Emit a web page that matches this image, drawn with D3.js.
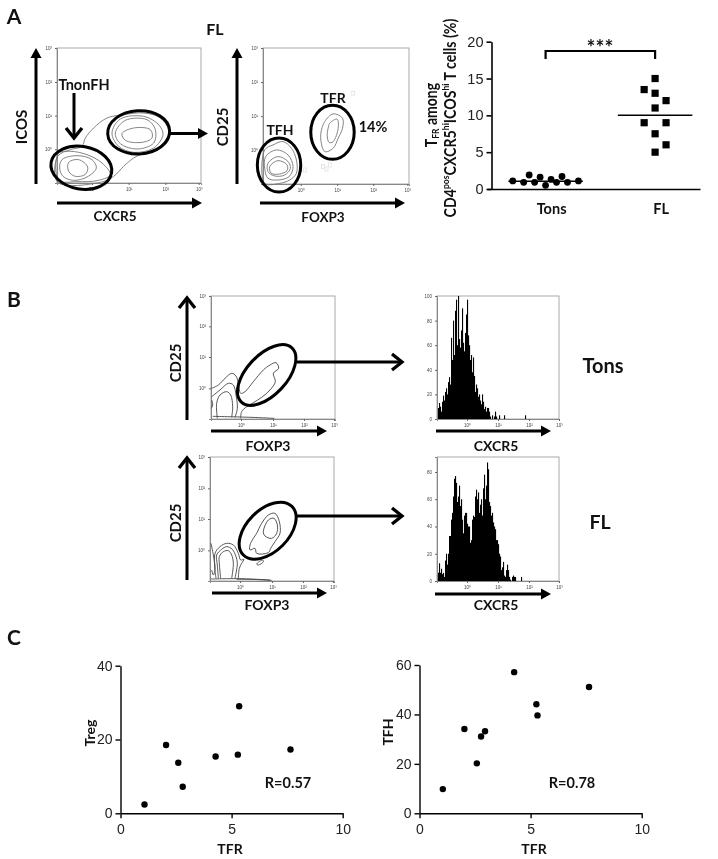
<!DOCTYPE html>
<html>
<head>
<meta charset="utf-8">
<script src="https://cdn.jsdelivr.net/npm/d3@7"></script>
<style>
    html, body { margin: 0; padding: 0; background: #fff; }
    svg { display: block; filter: blur(0.4px); }
    .lbl { font-family: Lato, "Open Sans", sans-serif; font-weight: 700; fill: #111; text-anchor: middle; dominant-baseline: central; }
    .num text { font-family: "Liberation Sans", Arial, sans-serif; fill: #222; }
</style>
</head>
<body>
<svg id="fig" width="718" height="859"></svg>
<script>
// panel A, right: TFR % per sample, jitter is in group units
const tonsOffset = [-0.3, -0.2, -0.1, 0, 0.1, 0.2, 0.3, -0.15, -0.05, 0.05, 0.15];
const tonsTfr = [1.1, 0.9, 0.9, 0.5, 0.9, 0.9, 1.1, 1.9, 1.6, 1.3, 1.7];
const flOffset = [0, -0.1, 0, 0.1, 0, -0.1, 0.1, 0, 0.1, 0];
const flTfr = [15, 13.5, 13, 12, 11, 9, 9, 7.5, 6, 5];
const groupNames = ["Tons", "FL"];
const groupMeans = [1.05, 10];

// panel C
const tfrTreg = [1.08, 2.05, 2.6, 2.8, 4.28, 5.28, 5.34, 7.65];
const tregVals = [2.4, 18.5, 13.7, 7.2, 15.4, 15.9, 29, 17.3];
const tfrTfh = [1.05, 2.02, 2.58, 2.77, 2.95, 4.26, 5.26, 5.31, 7.63];
const tfhVals = [9.8, 34.1, 20.2, 31.1, 33.2, 57.1, 44.1, 39.6, 51.1];

// panel B histograms, counts per channel bin
const histTons = [4, 9, 13, 10, 6, 14, 19, 15, 22, 25, 20, 30, 34, 28, 66, 48, 80, 52, 88, 97, 60, 100, 65, 58, 72, 90, 62, 55, 70, 85, 97, 68, 60, 48, 52, 38, 50, 35, 22, 28, 25, 18, 20, 15, 12, 20, 14, 8, 10, 6, 9, 9, 6, 2, 0, 3, 0, 2, 6, 2, 0, 0, 3, 0, 0, 0, 0, 3, 0, 0, 0, 0, 0, 0, 0, 0, 0, 0, 0, 0, 0, 0, 0, 0, 0, 0, 0, 0, 3, 0];
const histFl = [8, 6, 13, 6, 9, 5, 6, 3, 15, 20, 12, 20, 33, 33, 45, 50, 62, 75, 77, 72, 58, 62, 70, 55, 60, 45, 35, 48, 50, 50, 42, 40, 40, 28, 30, 45, 48, 47, 62, 67, 60, 65, 50, 56, 60, 48, 68, 78, 60, 70, 87, 82, 58, 55, 48, 50, 43, 40, 38, 30, 30, 27, 20, 18, 8, 10, 14, 4, 3, 8, 12, 8, 3, 1, 0, 3, 4, 3, 3, 0, 0, 0, 0, 0, 3, 0];

// flow contours, channel units
const flowIcosClosed = [
    [[2, 80], [40, 100], [75, 110], [85, 135], [110, 165], [150, 195], [200, 205], [260, 210], [310, 195], [335, 155], [310, 110], [260, 90], [230, 75], [200, 50], [170, 20], [130, 2], [2, 2]],
    [[4, 88], [40, 95], [90, 85], [135, 60], [160, 25], [125, 8], [60, 4], [5, 8]],
    [[15, 70], [60, 82], [105, 70], [118, 45], [90, 18], [50, 8], [18, 20], [8, 45]],
    [[35, 62], [65, 70], [92, 48], [85, 26], [55, 20], [35, 35]],
    [[165, 150], [190, 192], [260, 200], [305, 175], [318, 145], [290, 105], [230, 92], [185, 110]],
    [[175, 150], [205, 188], [270, 190], [295, 160], [290, 120], [240, 102], [190, 118]],
    [[195, 148], [230, 165], [280, 160], [285, 135], [255, 122], [205, 128]]
];
const flowCd25Closed = [
    [[5, 102], [30, 117], [60, 127], [85, 107], [100, 72], [100, 32], [80, 12], [50, 2], [5, 2]],
    [[8, 82], [40, 102], [75, 87], [90, 52], [78, 22], [45, 12], [15, 17], [5, 47]],
    [[15, 62], [45, 82], [75, 67], [82, 47], [65, 27], [35, 24], [15, 37]],
    [[20, 52], [45, 70], [72, 57], [72, 40], [50, 30], [25, 32]],
    [[185, 187], [210, 210], [238, 197], [238, 167], [225, 137], [210, 107], [185, 97], [173, 132], [175, 162]],
    [[200, 182], [222, 194], [225, 167], [210, 127], [198, 124], [192, 147], [195, 167]]
];
// stray events outside the CD25 gates
const flowCd25Specks = [[180, 52], [190, 45], [200, 57], [125, 42], [270, 272]];
const flowTonsOpen = [
    [[2, 92], [22, 102], [42, 122], [62, 137], [75, 129], [83, 102], [89, 77], [102, 82], [127, 112], [157, 147], [177, 162], [195, 169], [203, 152], [187, 137], [193, 112], [177, 87], [152, 65], [127, 49], [107, 37], [92, 22], [89, 2]],
    [[2, 67], [27, 87], [52, 107], [67, 102], [75, 72], [79, 32], [72, 5]],
    [[19, 2], [17, 47], [27, 72], [47, 82], [59, 72], [65, 37], [62, 5]],
    [[5, 8], [120, 5], [190, 2]],
    [[2, 57], [5, 42], [1, 32]]
];
const flowFlOpen = [
    [[18, 8], [15, 33], [15, 83], [30, 103], [50, 113], [70, 108], [85, 83], [92, 63], [102, 65], [95, 53], [88, 38], [85, 8]],
    [[25, 8], [22, 48], [20, 78], [35, 95], [50, 103], [67, 95], [78, 73], [82, 53], [75, 8]],
    [[32, 8], [28, 53], [28, 73], [40, 88], [55, 91], [65, 78], [70, 53], [65, 8]],
    [[3, 113], [10, 78], [15, 38], [10, 18], [5, 33]],
    [[2, 6], [90, 7], [180, 3]],
    [[80, 5], [120, 5], [185, 2]]
];
const flowFlClosed = [
    [[120, 108], [130, 128], [140, 143], [155, 173], [175, 198], [195, 203], [208, 178], [210, 143], [195, 118], [182, 98], [175, 85], [140, 83], [135, 98], [120, 93]],
    [[160, 148], [175, 183], [192, 188], [202, 168], [200, 143], [185, 128], [165, 135]],
    [[140, 51], [158, 63], [160, 58], [145, 48]]
];

const decadeLabels = ["10⁰", "10¹", "10²", "10³"];

const svg = d3.select("#fig");

function label(x, y, txt, size, rot, sx) {
    const t = svg.append("text").attr("class", "lbl").attr("font-size", size).text(txt);
    t.attr("transform", `translate(${x},${y})` + (rot ? ` rotate(${rot})` : "") + (sx ? ` scale(${sx},1)` : ""));
    return t;
}

// thick annotation arrow, solid triangle or open chevron head
function arrow(x1, y1, x2, y2, open, w) {
    w = w || 3;
    const a = Math.atan2(y2 - y1, x2 - x1);
    const g = svg.append("g").attr("transform", `translate(${x2},${y2}) rotate(${a * 180 / Math.PI})`);
    const len = Math.hypot(x2 - x1, y2 - y1);
    g.append("line").attr("x1", -len).attr("x2", open ? -2 : -8)
        .attr("stroke", "#000").attr("stroke-width", w);
    if (open) {
        g.append("path").attr("d", "M-11,-8L-1,0L-11,8").attr("fill", "none")
            .attr("stroke", "#000").attr("stroke-width", w + 0.3);
    } else {
        g.append("path").attr("d", "M-10,-5.5L0,0L-10,5.5Z").attr("fill", "#000");
    }
}

function flowPlot(box, dom, xt, yt, closed, open, gates, stroke, specks) {
    const x = d3.scaleLinear().domain([0, dom[0]]).range([box.l, box.r]);
    const y = d3.scaleLinear().domain([0, dom[1]]).range([box.b, box.t]);
    const g = svg.append("g");

    g.append("rect").attr("x", box.l).attr("y", box.t)
        .attr("width", box.r - box.l).attr("height", box.b - box.t)
        .attr("fill", "none").attr("stroke", "#aaa").attr("stroke-width", 1);

    const fmt = (d, i) => decadeLabels[i];
    const ax = g.append("g").attr("transform", `translate(0,${box.b})`)
        .call(d3.axisBottom(x).tickValues(xt).tickSize(2).tickFormat(fmt));
    const ay = g.append("g").attr("transform", `translate(${box.l},0)`)
        .call(d3.axisLeft(y).tickValues(yt).tickSize(2).tickFormat(fmt));
    [ax, ay].forEach(a => {
        a.selectAll("text").attr("font-size", 4.5).attr("fill", "#444").attr("font-family", "Liberation Sans");
        a.selectAll(".tick line").attr("stroke", "#666");
        a.select(".domain").attr("stroke", "#888");
    });

    (specks || []).forEach(p => {
        g.append("rect").attr("x", x(p[0]) - 1.5).attr("y", y(p[1]) - 2)
            .attr("width", 3).attr("height", 4).attr("fill", "none").attr("stroke", "#ddd").attr("stroke-width", 0.7);
    });

    const closedLine = d3.line().x(d => x(d[0])).y(d => y(d[1])).curve(d3.curveCatmullRomClosed);
    const openLine = d3.line().x(d => x(d[0])).y(d => y(d[1])).curve(d3.curveCatmullRom);
    g.selectAll(".cc").data(closed).enter().append("path").attr("class", "cc")
        .attr("d", closedLine).attr("fill", "none").attr("stroke", stroke).attr("stroke-width", 0.9);
    g.selectAll(".co").data(open).enter().append("path").attr("class", "co")
        .attr("d", openLine).attr("fill", "none").attr("stroke", stroke).attr("stroke-width", 0.9);

    gates.forEach(e => {
        g.append("ellipse")
            .attr("rx", x(e[2]) - x(0)).attr("ry", x(e[3]) - x(0))
            .attr("transform", `translate(${x(e[0])},${y(e[1])}) rotate(${e[4]})`)
            .attr("fill", "none").attr("stroke", "#000").attr("stroke-width", 3);
    });
}

function histPlot(box, dom, yt, vals, xt) {
    const x = d3.scaleLinear().domain([0, 122]).range([box.l, box.r]);
    const y = d3.scaleLinear().domain([0, dom]).range([box.b, box.t]);
    const g = svg.append("g");
    g.append("rect").attr("x", box.l).attr("y", box.t)
        .attr("width", box.r - box.l).attr("height", box.b - box.t)
        .attr("fill", "none").attr("stroke", "#aaa");
    g.selectAll(".bin").data(vals).enter().append("rect").attr("class", "bin")
        .attr("x", (d, i) => x(i)).attr("width", x(1) - x(0) + 0.1)
        .attr("y", d => y(d)).attr("height", d => y(0) - y(d)).attr("fill", "#000");
    const ax = g.append("g").attr("transform", `translate(0,${box.b})`)
        .call(d3.axisBottom(x).tickValues(xt).tickSize(2).tickFormat((d, i) => decadeLabels[i]));
    const ay = g.append("g").attr("transform", `translate(${box.l},0)`)
        .call(d3.axisLeft(y).tickValues(yt).tickSize(2));
    [ax, ay].forEach(a => {
        a.selectAll("text").attr("font-size", 4.5).attr("fill", "#444").attr("font-family", "Liberation Sans");
        a.selectAll(".tick line").attr("stroke", "#666");
        a.select(".domain").attr("stroke", "#888");
    });
}

function scatter(o) {
    const x = d3.scaleLinear().domain([0, 10]).range(o.xr);
    const y = d3.scaleLinear().domain([0, o.ymax]).range(o.yr);
    const ax = svg.append("g").attr("class", "num").attr("transform", `translate(0,${o.yr[0]})`)
        .call(d3.axisBottom(x).tickValues([0, 5, 10]).tickSize(5).tickSizeOuter(0));
    const ay = svg.append("g").attr("class", "num").attr("transform", `translate(${o.xr[0]},0)`)
        .call(d3.axisLeft(y).tickValues(o.yticks).tickSize(5).tickSizeOuter(0));
    [ax, ay].forEach(a => {
        a.selectAll("path,line").attr("stroke", "#000").attr("stroke-width", 1.4);
        a.selectAll("text").attr("font-size", 14);
    });
    ax.selectAll("text").attr("dy", "0.9em");
    svg.append("g").selectAll("circle").data(o.xs).enter().append("circle")
        .attr("cx", d => x(d)).attr("cy", (d, i) => y(o.ys[i])).attr("r", 3.2).attr("fill", "#000");
}

// ---- panel letters
label(14, 15, "A", 21);
label(14, 298, "B", 21);
label(14, 636, "C", 21);

// ---- panel A flow plots
flowPlot({ l: 57, r: 201, t: 48, b: 183 }, [432, 405], [105, 215, 325, 425], [101, 202, 303, 405],
    flowIcosClosed, [],
    [[73, 46, 92, 64, 10], [245, 152, 93, 65, -3]], "#777");
flowPlot({ l: 263, r: 409, t: 48, b: 184 }, [437, 407], [113, 222, 330, 432], [102, 203, 305, 407],
    flowCd25Closed, [],
    [[48, 57, 65, 81, 0], [208, 155, 65, 81, 0]], "#777", flowCd25Specks);

arrow(36, 184, 36, 48);
arrow(57, 203, 202, 203);
arrow(237, 184, 237, 48);
arrow(260, 203, 405, 203);
arrow(74, 93, 74, 139, true);
arrow(170, 133.5, 208, 133.5);

label(84, 84, "TnonFH", 14.5);
label(21, 127, "ICOS", 15, -90);
label(115, 216, "CXCR5", 13.5);
label(222, 127, "CD25", 15, -90);
label(323, 217, "FOXP3", 13.5);
label(215, 28, "FL", 16);
label(280, 129, "TFH", 14);
label(333, 97, "TFR", 14);
label(373, 126, "14%", 14.5);

// ---- panel A dot plot
const gx = d3.scaleLinear().domain([-0.535, 1.41]).range([487, 700]);
const gy = d3.scaleLinear().domain([0, 20]).range([189, 41.7]);
const gxAxis = svg.append("g").attr("transform", "translate(0,189)")
    .call(d3.axisBottom(gx).tickValues([]).tickSizeOuter(0));
const gyAxis = svg.append("g").attr("class", "num").attr("transform", "translate(491.5,0)")
    .call(d3.axisLeft(gy).tickValues([0, 5, 10, 15, 20]).tickSize(5).tickSizeOuter(0));
[gxAxis, gyAxis].forEach(a => a.selectAll("path,line").attr("stroke", "#000").attr("stroke-width", 1.6));
gyAxis.selectAll("text").attr("font-size", 14.5);

svg.append("g").selectAll("circle").data(tonsTfr).enter().append("circle")
    .attr("cx", (d, i) => gx(tonsOffset[i])).attr("cy", d => gy(d)).attr("r", 3.4).attr("fill", "#000");
svg.append("g").selectAll("rect").data(flTfr).enter().append("rect")
    .attr("x", (d, i) => gx(flOffset[i]) + gx(1) - gx(0) - 3.6).attr("y", d => gy(d) - 3.6)
    .attr("width", 7.2).attr("height", 7.2).attr("fill", "#000");

groupMeans.forEach((m, i) => {
    svg.append("line").attr("x1", gx(i - 0.34)).attr("x2", gx(i + 0.34))
        .attr("y1", gy(m)).attr("y2", gy(m)).attr("stroke", "#000").attr("stroke-width", 1.5);
    label(gx(i) + 6, 208, groupNames[i], 14.5);
});

svg.append("path").attr("d", `M${gx(0)},59V51H${gx(1)}V59`).attr("fill", "none")
    .attr("stroke", "#000").attr("stroke-width", 2.2);
label(600, 46, "***", 21);

const t1 = label(431, 115, "", 16.5, -90, 0.85);
t1.append("tspan").text("T");
t1.append("tspan").attr("font-size", 10).attr("dy", 4).text("FR");
t1.append("tspan").attr("dy", -4).text(" among");
const t2 = label(450, 118, "", 16.5, -90, 0.86);
[["CD4", 0], ["pos", 1], ["CXCR5", 0], ["hi", 1], ["ICOS", 0], ["hi", 1], [" T cells (%)", 0]].forEach((p, i, all) => {
    const prevSup = i > 0 && all[i - 1][1];
    const s = t2.append("tspan").text(p[0]);
    if (p[1]) s.attr("font-size", 10).attr("dy", -5);
    else if (prevSup) s.attr("dy", 5);
});

// ---- panel B
flowPlot({ l: 211, r: 335, t: 296, b: 419 }, [372, 369], [90, 186, 279, 369], [92, 186, 278, 369],
    [], flowTonsOpen, [[167, 132, 111, 60, -47]], "#444");
flowPlot({ l: 210, r: 334, t: 457, b: 581 }, [372, 372], [90, 186, 279, 369], [92, 186, 278, 372],
    flowFlClosed, flowFlOpen, [[173, 151, 103, 63, -45]], "#444");

histPlot({ l: 437, r: 559, t: 296, b: 419 }, 100, [0, 20, 40, 60, 80, 100], histTons, [30, 61, 92, 122]);
histPlot({ l: 437, r: 559, t: 457, b: 581 }, 91, [0, 20, 40, 60, 80], histFl, [30, 61, 92, 122]);

arrow(187, 420, 187, 297, true);
arrow(187, 580, 187, 457, true);
arrow(211, 431, 327, 431);
arrow(212, 593, 327, 593);
arrow(436, 431, 551, 431);
arrow(435, 594, 551, 594);
arrow(297, 362, 403, 362, true);
arrow(297, 516, 403, 516, true);

label(175, 363, "CD25", 15, -90);
label(175, 523, "CD25", 15, -90);
label(268, 445, "FOXP3", 14);
label(267, 604, "FOXP3", 14);
label(496, 445, "CXCR5", 14);
label(496, 604, "CXCR5", 14);
label(603, 365, "Tons", 20);
label(600, 521, "FL", 19.5);

// ---- panel C
scatter({ xr: [120.5, 342.7], yr: [813.3, 665.7], ymax: 40, yticks: [0, 20, 40], xs: tfrTreg, ys: tregVals });
scatter({ xr: [419.5, 641.7], yr: [813.3, 665], ymax: 60, yticks: [0, 20, 40, 60], xs: tfrTfh, ys: tfhVals });

label(230, 848, "TFR", 14);
label(534, 848, "TFR", 14);
label(89, 733, "Treg", 14, -90);
label(387, 732, "TFH", 14, -90);
label(288, 782, "R=0.57", 14.5);
label(572, 782, "R=0.78", 14.5);
</script>
</body>
</html>
